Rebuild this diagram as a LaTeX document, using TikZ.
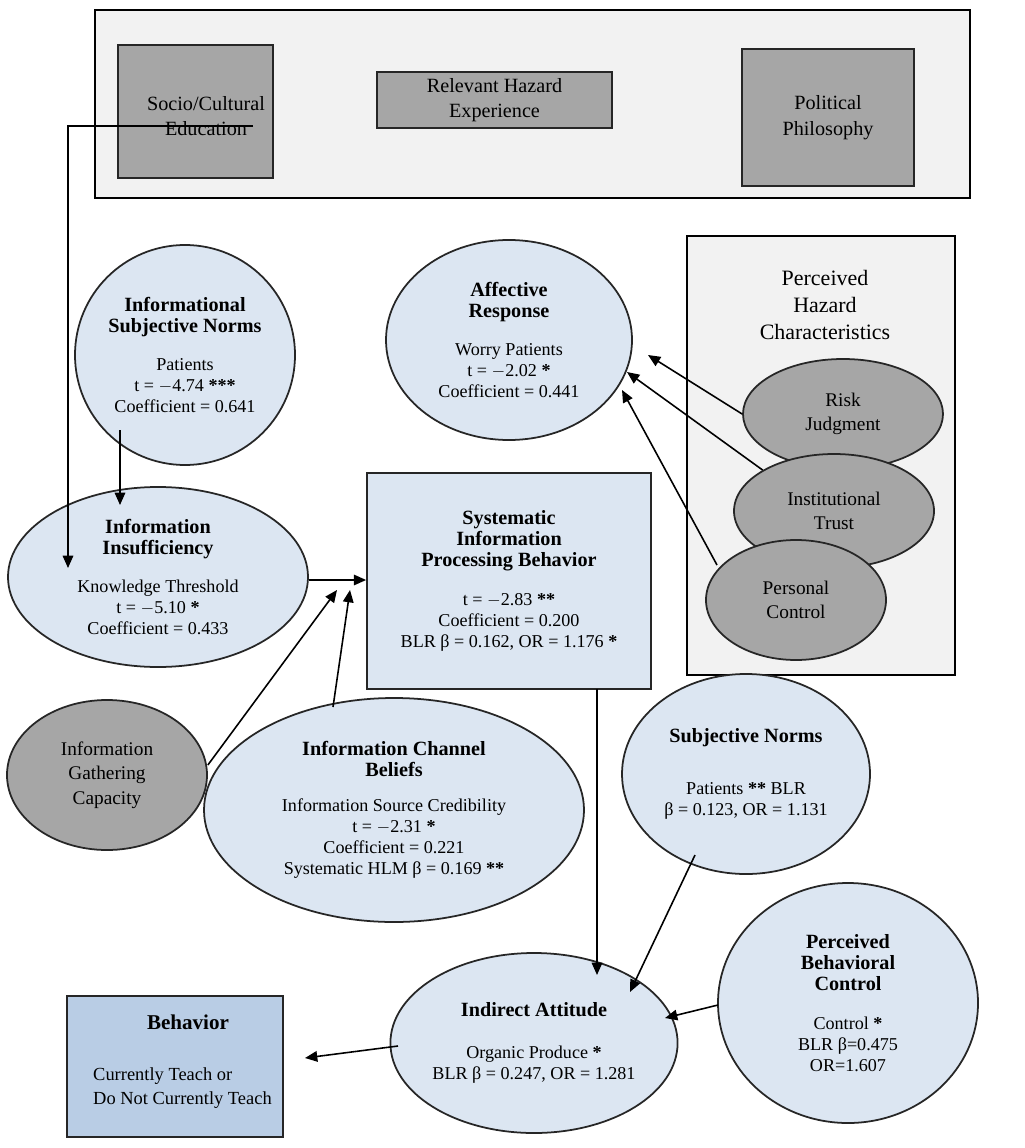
\documentclass[tikz,border=0pt]{standalone}
\usepackage{fontspec}
\setmainfont{Liberation Serif}
\usetikzlibrary{shapes.geometric,arrows.meta}
\definecolor{lb}{HTML}{DCE6F2}
\definecolor{gr}{HTML}{A6A6A6}
\definecolor{lg}{HTML}{F2F2F2}
\definecolor{bb}{HTML}{B9CDE5}
\newcommand{\ttl}[1]{\textbf{\fontsize{11.5}{14}\selectfont #1}}
\begin{document}
\begin{tikzpicture}[x=0.02cm,y=-0.02cm,
 el/.style={ellipse,draw=black!85,line width=1pt,fill=lb,align=center,font=\fontsize{10.3}{12}\selectfont,inner sep=0pt},
 gel/.style={el,fill=gr,font=\fontsize{11}{14}\selectfont},
 gbox/.style={draw=black!85,line width=1pt,fill=gr,align=center,font=\fontsize{11.5}{14.5}\selectfont},
 ar/.style={-{Triangle[length=7pt,width=6pt]},line width=0.9pt}]
\useasboundingbox (0,0) rectangle (1024,1148);
\fill[white] (0,0) rectangle (1024,1148);
\draw[line width=1pt,fill=lg] (95,10) rectangle (970,198);
\node[gbox,minimum width=155*0.02cm,minimum height=133*0.02cm] (soc) at (195.5,111.5) {};
\node[align=center,font=\fontsize{11.5}{14.5}\selectfont] (socT) at (206,116) {Socio/Cultural\\Education};
\node[gbox,minimum width=235*0.02cm,minimum height=54*0.02cm] (rhe) at (494.5,100) {Relevant Hazard\\Experience};
\node[gbox,minimum width=172*0.02cm,minimum height=137*0.02cm] (pol) at (828,117.5) {Political\\Philosophy};
\draw[line width=1pt,fill=lg] (687,236) rectangle (955,675);
\node[align=center,font=\fontsize{12.5}{15.5}\selectfont] (phc) at (825,305) {Perceived\\Hazard\\Characteristics};
\node[gel,minimum width=200*0.02cm,minimum height=110*0.02cm] (rj) at (843,414) {Risk\\Judgment};
\node[gel,minimum width=200*0.02cm,minimum height=114*0.02cm] (it) at (834,511) {Institutional\\Trust};
\node[gel,minimum width=180*0.02cm,minimum height=120*0.02cm] (pc) at (796,600) {Personal\\Control};
\node[el,minimum width=220*0.02cm,minimum height=220*0.02cm] (isn) at (185,355) {\ttl{Informational}\\\ttl{Subjective Norms}\\[10pt]Patients\\t = $-$4.74 \textbf{***}\\Coefficient = 0.641};
\node[el,minimum width=246*0.02cm,minimum height=200*0.02cm] (ar) at (509,340) {\ttl{Affective}\\\ttl{Response}\\[10pt]Worry Patients\\t = $-$2.02 \textbf{*}\\Coefficient = 0.441};
\node[el,minimum width=300*0.02cm,minimum height=180*0.02cm] (ii) at (158,577) {\ttl{Information}\\\ttl{Insufficiency}\\[10pt]Knowledge Threshold\\t = $-$5.10 \textbf{*}\\Coefficient = 0.433};
\node[draw=black!85,line width=1pt,fill=lb,align=center,font=\fontsize{10.3}{12}\selectfont,minimum width=284*0.02cm,minimum height=216*0.02cm] (sip) at (509,581) {\ttl{Systematic}\\\ttl{Information}\\\ttl{Processing Behavior}\\[10pt]t = $-$2.83 \textbf{**}\\Coefficient = 0.200\\BLR β = 0.162, OR = 1.176 \textbf{*}};
\node[gel,minimum width=200*0.02cm,minimum height=150*0.02cm] (igc) at (107,775) {Information\\Gathering\\Capacity};
\node[el,minimum width=380*0.02cm,minimum height=224*0.02cm] (icb) at (394,810) {\ttl{Information Channel}\\\ttl{Beliefs}\\[8pt]Information Source Credibility\\t = $-$2.31 \textbf{*}\\Coefficient = 0.221\\Systematic HLM β = 0.169 \textbf{**}};
\node[el,minimum width=248*0.02cm,minimum height=200*0.02cm] (sn) at (746,774) {\ttl{Subjective Norms}\\[18pt]Patients \textbf{**} BLR\\β = 0.123, OR = 1.131};
\node[el,minimum width=260*0.02cm,minimum height=240*0.02cm] (pbc) at (848,1003) {\ttl{Perceived}\\\ttl{Behavioral}\\\ttl{Control}\\[10pt]Control \textbf{*}\\BLR β=0.475\\OR=1.607};
\node[el,minimum width=276*0.02cm,minimum height=180*0.02cm] (ia) at (534,1043) {\ttl{Indirect Attitude}\\[12pt]Organic Produce \textbf{*}\\BLR β = 0.247, OR = 1.281};
\node[draw=black!85,line width=1pt,fill=bb,minimum width=216*0.02cm,minimum height=141*0.02cm] (beh) at (175,1066.5) {};
\node[font=\bfseries\fontsize{12}{14}\selectfont] (behT) at (188,1022) {Behavior};
\node[align=left,font=\fontsize{10.5}{14}\selectfont,anchor=west] (behS) at (87,1088) {Currently Teach or\\Do Not Currently Teach};
% arrows
\coordinate (s0) at (253,126);
\coordinate (s1) at (68,568);
\draw[ar] (s0) -- (68,126) -- (s1);
\draw[ar] (120,430) -- (120,505);
\draw[ar] (ii.east |- 0,580) -- (sip.west |- 0,580);
\coordinate (j1) at (337,590);
\coordinate (j2) at (350,590);
\draw[ar] (igc.east |- 0,765) -- (j1);
\draw[ar] (333,707) -- (j2);
\draw[ar] (rj.west) -- (648,355);
\draw[ar] (it.north west) -- (627,372);
\draw[ar] (717,565) -- (622,390);
\draw[ar] (597,689) -- (597,975);
\draw[ar] (695,855) -- (630,992);
\draw[ar] (718,1005) -- (665,1018);
\draw[ar] (398,1046) -- (305,1058);
\end{tikzpicture}
\end{document}
